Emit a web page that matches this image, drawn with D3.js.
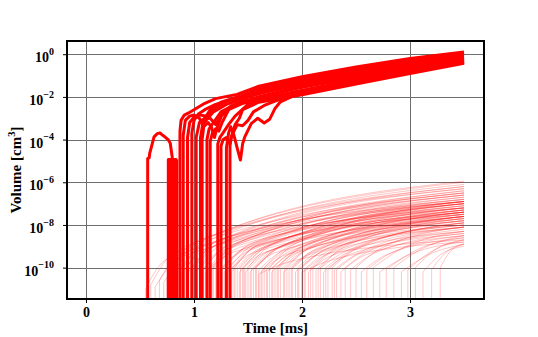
<!DOCTYPE html>
<html>
<head>
<meta charset="utf-8">
<script src="https://cdn.jsdelivr.net/npm/d3@7"></script>
<style>
  body { margin: 0; background: #fff; }
  svg { display: block; }
  text { font-family: "Liberation Serif", "Times New Roman", serif; font-weight: bold; fill: #000; }
</style>
</head>
<body>
<div id="chart"></div>
<script>
// Ticks
const xTicks = [0, 1, 2, 3];
const yTickExp = [0, -2, -4, -6, -8, -10];

// Thick curves: [time ms, log10 volume]
const curveA = [[0.571,-12.5],[0.571,-4.89],[0.585,-4.85],[0.59,-4.64],[0.63,-3.87],[0.66,-3.72],[0.685,-3.69],[0.71,-3.8],[0.73,-3.87],[0.76,-4.0],[0.78,-4.17],[0.80,-4.89],[0.80,-12.5]];
const curveBlock = [[0.762,-12.5],[0.762,-4.93],[0.770,-4.93],[0.770,-12.5],[0.778,-12.5],[0.778,-4.93],[0.786,-4.93],[0.786,-12.5],[0.794,-12.5],[0.794,-4.93],[0.802,-4.93],[0.802,-12.5],[0.810,-12.5],[0.810,-4.93],[0.818,-4.93],[0.818,-12.5],[0.826,-12.5],[0.826,-4.93],[0.834,-4.93],[0.834,-12.5],[0.840,-12.5],[0.840,-4.93]];
const curveB = [[0.87,-12.5],[0.87,-3.6],[0.88,-3.1],[0.91,-2.85],[0.95,-2.75],[1.0,-2.6],[1.1,-2.3],[1.2,-2.08],[1.4,-1.88],[1.6,-1.5],[2.0,-1.05],[2.5,-0.6],[3.0,-0.2],[3.5,0.1]];
const curveC = [[0.90,-12.5],[0.90,-3.8],[0.92,-3.1],[0.96,-2.9],[1.0,-2.85],[1.05,-3.0],[1.08,-3.3],[1.1,-3.0],[1.15,-2.6],[1.25,-2.25],[1.4,-2.0],[1.6,-1.7],[2.0,-1.25],[2.5,-0.8],[3.0,-0.35],[3.5,0.0]];
const curveD = [[0.94,-12.5],[0.94,-3.9],[0.96,-3.2],[1.0,-2.95],[1.05,-2.85],[1.12,-2.9],[1.2,-2.5],[1.3,-2.2],[1.5,-1.95],[1.6,-1.8],[2.0,-1.35],[2.5,-0.9],[3.0,-0.45],[3.5,-0.08]];
const curveE = [[0.98,-12.5],[0.98,-3.7],[1.0,-3.1],[1.04,-2.8],[1.1,-2.6],[1.2,-2.35],[1.4,-2.05],[1.6,-1.6],[2.0,-1.15],[2.5,-0.7],[3.0,-0.28],[3.5,0.05]];
const curveF = [[1.02,-12.5],[1.02,-3.9],[1.05,-3.2],[1.1,-3.0],[1.15,-3.0],[1.2,-3.3],[1.25,-2.9],[1.35,-2.45],[1.5,-2.2],[1.6,-2.0],[2.0,-1.5],[2.5,-1.05],[3.0,-0.6],[3.5,-0.2]];
const curveG = [[1.06,-12.5],[1.06,-3.9],[1.08,-3.3],[1.12,-3.05],[1.18,-2.7],[1.3,-2.35],[1.45,-2.1],[1.6,-1.85],[2.0,-1.4],[2.5,-0.95],[3.0,-0.5],[3.5,-0.15]];
const curveH = [[1.075,-12.5],[1.075,-4.0],[1.09,-3.4],[1.13,-3.2],[1.16,-3.4],[1.19,-3.9],[1.21,-3.5],[1.26,-2.8],[1.35,-2.4],[1.6,-2.1],[2.0,-1.7],[2.5,-1.2],[3.0,-0.75],[3.5,-0.3]];
const curveI = [[1.12,-12.5],[1.12,-4.0],[1.14,-3.5],[1.18,-3.2],[1.25,-2.7],[1.4,-2.3],[1.6,-2.0],[2.0,-1.55],[2.5,-1.1],[3.0,-0.65],[3.5,-0.25]];
const curveJ = [[1.15,-12.5],[1.15,-4.1],[1.17,-3.7],[1.2,-3.5],[1.23,-3.6],[1.26,-3.2],[1.32,-2.6],[1.45,-2.3],[1.6,-2.2],[2.0,-1.85],[2.5,-1.35],[3.0,-0.85],[3.5,-0.38]];
const curveK = [[1.22,-12.5],[1.22,-4.2],[1.24,-3.9],[1.28,-3.6],[1.32,-3.3],[1.38,-2.9],[1.5,-2.35],[1.6,-2.15],[2.0,-1.7],[2.5,-1.25],[3.0,-0.8],[3.5,-0.35]];
const curveL = [[1.25,-12.5],[1.25,-4.3],[1.27,-4.0],[1.3,-3.9],[1.33,-4.2],[1.35,-3.8],[1.38,-3.3],[1.42,-3.0],[1.45,-2.6],[1.6,-2.25],[2.0,-1.9],[2.5,-1.4],[3.0,-0.9],[3.5,-0.42]];
const curveM = [[1.30,-12.5],[1.30,-4.4],[1.32,-3.7],[1.34,-3.4],[1.37,-3.8],[1.40,-4.4],[1.43,-4.96],[1.45,-4.2],[1.47,-3.87],[1.53,-3.25],[1.59,-3.0],[1.65,-3.22],[1.70,-3.05],[1.75,-2.54],[1.80,-2.23],[1.9,-2.0],[2.0,-1.85],[2.5,-1.3],[3.0,-0.85],[3.5,-0.4]];
const curveN = [[1.333,-12.5],[1.333,-4.3],[1.345,-3.9],[1.37,-3.6],[1.40,-3.3],[1.45,-3.35],[1.5,-3.1],[1.55,-2.7],[1.65,-2.4],[1.75,-2.2],[2.0,-1.8],[2.5,-1.3],[3.0,-0.8],[3.5,-0.32]];
const thickCurves = [curveA, curveBlock, curveB, curveC, curveD, curveE, curveF, curveG, curveH, curveI, curveJ, curveK, curveL, curveM, curveN];

// Faint curve above the bundle: [time ms, log10 volume]
const faintUpper = [[0.84,-12.5],[0.84,-4.2],[0.9,-3.1],[1.0,-2.55],[1.2,-2.05],[1.4,-1.8],[1.6,-1.45]];

// Thin curves: [start time, start log10 V, knee time, knee log10 V, log10 V at 3.5 ms]
const thinLines = [
  [0.55,-11.0,0.75,-9.6,-6.9],[0.60,-10.8,0.82,-9.3,-6.5],[0.64,-10.9,0.88,-9.5,-7.2],[0.68,-10.6,0.92,-9.0,-6.2],
  [0.72,-10.7,0.95,-9.2,-6.8],[0.75,-10.5,0.98,-8.9,-6.0],[0.80,-10.4,1.03,-8.8,-6.3],[0.85,-10.2,1.08,-9.0,-6.6],
  [0.88,-10.3,1.12,-9.1,-7.0],[0.92,-10.1,1.15,-8.7,-6.1],[0.95,-10.2,1.18,-9.0,-6.7],[0.99,-10.1,1.22,-8.9,-6.4],
  [1.02,-10.2,1.26,-9.2,-7.3],[1.05,-10.0,1.28,-8.8,-6.5],[1.08,-10.1,1.31,-9.0,-6.9],[1.11,-10.2,1.35,-9.3,-7.5],
  [1.14,-10.0,1.37,-8.9,-6.6],[1.17,-10.1,1.40,-9.1,-7.1],[1.20,-10.0,1.43,-8.8,-6.4],[1.23,-10.2,1.46,-9.2,-7.4],
  [1.26,-10.1,1.49,-9.0,-6.9],[1.29,-10.0,1.52,-8.9,-6.7],[1.31,-10.2,1.55,-9.3,-7.7],[1.34,-10.1,1.57,-9.0,-7.0],
  [1.37,-10.0,1.60,-8.9,-6.8],[1.40,-10.1,1.63,-9.1,-7.2],[1.42,-10.2,1.65,-9.3,-7.6],[1.45,-10.0,1.68,-9.0,-6.9],
  [1.47,-10.1,1.70,-9.2,-7.4],[1.50,-10.0,1.73,-8.9,-7.0],[1.52,-10.2,1.75,-9.3,-7.8],[1.55,-10.1,1.78,-9.1,-7.3],
  [1.57,-10.0,1.80,-9.0,-7.1],[1.60,-10.1,1.83,-9.2,-7.5],[1.62,-10.2,1.85,-9.4,-8.0],[1.65,-10.0,1.88,-9.0,-7.2],
  [1.67,-10.1,1.90,-9.2,-7.6],[1.70,-10.0,1.93,-8.9,-6.9],[1.72,-10.2,1.95,-9.3,-7.9],[1.75,-10.1,1.98,-9.1,-7.4],
  [1.78,-10.0,2.01,-9.0,-7.3],[1.80,-10.1,2.03,-9.2,-7.7],[1.83,-10.2,2.06,-9.4,-8.1],[1.86,-10.0,2.09,-9.0,-7.4],
  [1.88,-10.1,2.11,-9.2,-7.8],[1.91,-10.0,2.14,-9.1,-7.6],[1.94,-10.2,2.17,-9.3,-8.0],[1.97,-10.1,2.20,-9.2,-7.7],
  [2.00,-10.0,2.23,-9.1,-7.6],[2.03,-10.1,2.26,-9.3,-8.1],[2.06,-10.2,2.29,-9.4,-8.3],[2.10,-10.0,2.33,-9.1,-7.8],
  [2.13,-10.1,2.36,-9.2,-8.0],[2.17,-10.0,2.40,-9.0,-7.7],[2.20,-10.2,2.43,-9.4,-8.4],[2.24,-10.1,2.47,-9.2,-8.1],
  [2.28,-10.0,2.51,-9.1,-7.9],[2.32,-10.1,2.55,-9.3,-8.3],[2.36,-10.2,2.59,-9.4,-8.5],[2.40,-10.0,2.63,-9.2,-8.2],
  [2.45,-10.1,2.68,-9.3,-8.4],[2.50,-10.0,2.73,-9.1,-8.1],[2.55,-10.2,2.78,-9.4,-8.6],[2.60,-10.1,2.83,-9.3,-8.5],
  [2.66,-10.0,2.89,-9.2,-8.3],[2.72,-10.2,2.95,-9.5,-8.8],[2.78,-10.1,3.01,-9.3,-8.6],[2.85,-10.0,3.08,-9.2,-8.5],
  [2.92,-10.2,3.13,-9.5,-8.9],[2.98,-10.1,3.18,-9.3,-8.7],[3.05,-10.0,3.22,-9.2,-8.7],[3.12,-10.2,3.28,-9.4,-9.0],
  [3.20,-10.1,3.33,-9.3,-8.9],[3.28,-10.0,3.38,-9.2,-8.9],
  [0.90,-10.0,1.13,-8.6,-5.95],[0.97,-10.1,1.20,-8.8,-6.2],[1.03,-10.0,1.26,-8.7,-6.3],[1.09,-10.1,1.32,-8.9,-6.5],
  [1.13,-10.2,1.36,-9.0,-6.8],[1.18,-10.0,1.41,-8.8,-6.6],[1.24,-10.1,1.47,-9.1,-7.0],[1.28,-10.2,1.51,-9.2,-7.2],
  [1.33,-10.0,1.56,-8.9,-6.9],[1.38,-10.1,1.61,-9.1,-7.1],[1.43,-10.0,1.66,-9.0,-7.0],[1.48,-10.2,1.71,-9.2,-7.3],
  [1.53,-10.1,1.76,-9.1,-7.2],[1.58,-10.0,1.81,-9.0,-7.0],[1.63,-10.1,1.86,-9.2,-7.4],[1.68,-10.2,1.91,-9.3,-7.6],
  [1.73,-10.0,1.96,-9.1,-7.3],[1.77,-10.1,2.00,-9.2,-7.5],[1.84,-10.0,2.07,-9.1,-7.4],[1.90,-10.1,2.13,-9.2,-7.6],
  [1.96,-10.0,2.19,-9.1,-7.5],[2.02,-10.1,2.25,-9.2,-7.8],[2.08,-10.0,2.31,-9.1,-7.6],[2.15,-10.1,2.38,-9.3,-7.9],
  [2.22,-10.0,2.45,-9.2,-7.9],[2.30,-10.1,2.53,-9.3,-8.1],[1.00,-10.0,1.23,-8.7,-6.9],[1.16,-10.1,1.39,-8.9,-7.2],
  [1.35,-10.2,1.58,-9.0,-7.4],[1.46,-10.0,1.69,-9.0,-7.5],[2.00,-10.2,2.30,-9.6,-8.8],[1.60,-10.3,1.90,-9.7,-8.7]
];

const width = 538, height = 337;
const plotLeft = 67, plotRight = 484, plotTop = 41, plotBottom = 299;

const svg = d3.select("#chart").append("svg")
    .attr("width", width)
    .attr("height", height)
    .attr("viewBox", [0, 0, width, height]);

const x = d3.scaleLinear().domain([-0.176, 3.685]).range([plotLeft, plotRight]);
const y = d3.scaleLog().domain([Math.pow(10, -11.47), Math.pow(10, 0.62)]).range([plotBottom, plotTop]);

svg.append("defs").append("clipPath").attr("id", "plot-clip")
    .append("rect").attr("x", plotLeft).attr("y", plotTop)
    .attr("width", plotRight - plotLeft).attr("height", plotBottom - plotTop);

// grid
const grid = svg.append("g").attr("stroke", "#6e6e6e").attr("stroke-width", 1);
grid.selectAll(".vx").data(xTicks).join("line")
    .attr("x1", d => Math.round(x(d)) + 0.5).attr("x2", d => Math.round(x(d)) + 0.5)
    .attr("y1", plotTop).attr("y2", plotBottom);
grid.selectAll(".hy").data(yTickExp).join("line")
    .attr("y1", d => Math.round(y(Math.pow(10, d))) + 0.5).attr("y2", d => Math.round(y(Math.pow(10, d))) + 0.5)
    .attr("x1", plotLeft).attr("x2", plotRight);

const line = d3.line().x(d => x(d[0])).y(d => y(Math.pow(10, d[1])));
const smooth = d3.line().x(d => x(d[0])).y(d => y(Math.pow(10, d[1]))).curve(d3.curveMonotoneX);

const plot = svg.append("g").attr("clip-path", "url(#plot-clip)");

// thin curves
const thin = plot.append("g")
    .attr("fill", "none")
    .attr("stroke", "#ff0000")
    .attr("stroke-opacity", 0.25)
    .attr("stroke-width", 0.9);
thinLines.forEach(r => {
    thin.append("path").attr("d", line([[r[0], -12.5], [r[0], r[1]]]));
    thin.append("path").attr("d", smooth([[r[0], r[1]], [r[2], r[3]], [3.5, r[4]]]));
});
plot.append("path")
    .attr("d", line(faintUpper))
    .attr("fill", "none").attr("stroke", "#ff0000").attr("stroke-opacity", 0.15).attr("stroke-width", 0.8);

// thick curves
plot.append("g")
    .attr("fill", "none")
    .attr("stroke", "#ff0000")
    .attr("stroke-width", 3)
    .attr("stroke-linejoin", "round")
    .selectAll("path")
    .data(thickCurves)
    .join("path")
    .attr("d", d => line(d));

// axes
const xAxis = svg.append("g")
    .attr("transform", `translate(0,${plotBottom})`)
    .call(d3.axisBottom(x).tickValues(xTicks).tickFormat(d3.format("d")).tickSize(4).tickPadding(4))
    .call(g => g.select(".domain").remove());
xAxis.selectAll("text").attr("font-size", 14).attr("font-family", "Liberation Serif").attr("font-weight", "bold");
xAxis.selectAll("line").attr("stroke", "#000");

const yAxis = svg.append("g")
    .attr("transform", `translate(${plotLeft},0)`)
    .call(d3.axisLeft(y).tickValues(yTickExp.map(e => Math.pow(10, e))).tickSize(4).tickPadding(9).tickFormat(""))
    .call(g => g.select(".domain").remove());
yAxis.selectAll("line").attr("stroke", "#000");
yAxis.selectAll(".tick text").each(function (d) {
    const e = Math.round(Math.log10(d));
    const t = d3.select(this)
        .attr("font-size", 14).attr("font-family", "Liberation Serif").attr("font-weight", "bold")
        .attr("dy", "0.55em");
    t.append("tspan").text("10");
    t.append("tspan").attr("font-size", 10).attr("dy", "-0.75em")
        .text(e < 0 ? "\u2212" + (-e) : String(e));
});

// frame
svg.append("rect")
    .attr("x", plotLeft).attr("y", plotTop)
    .attr("width", plotRight - plotLeft).attr("height", plotBottom - plotTop)
    .attr("fill", "none").attr("stroke", "#000").attr("stroke-width", 2);

// labels
svg.append("text")
    .attr("x", (plotLeft + plotRight) / 2).attr("y", 333)
    .attr("text-anchor", "middle").attr("font-size", 15)
    .text("Time [ms]");

const yl = svg.append("text")
    .attr("transform", `translate(21,${(plotTop + plotBottom) / 2}) rotate(-90)`)
    .attr("text-anchor", "middle").attr("font-size", 15);
yl.append("tspan").text("Volume [cm");
yl.append("tspan").attr("font-size", 10.5).attr("dy", "-0.6em").text("3");
yl.append("tspan").attr("dy", "0.42em").text("]");
</script>
</body>
</html>
